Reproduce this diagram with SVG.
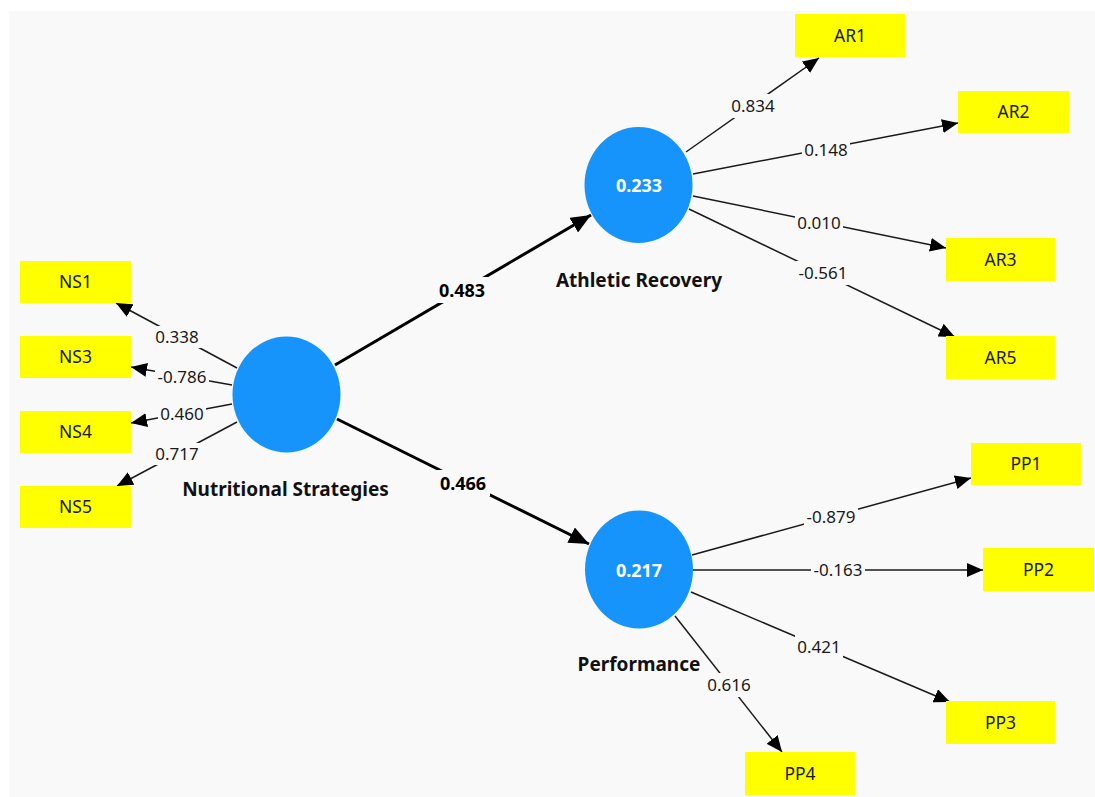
<svg xmlns="http://www.w3.org/2000/svg" width="1095" height="797" viewBox="0 0 1095 797">
<style>
.box{fill:#ffff00}
.lat{fill:#1794fb}
.ind{font-family:"Noto Sans","Open Sans","Liberation Sans",sans-serif;font-size:17.5px;fill:#1a1a1a;text-anchor:middle}
.name{font-family:"Noto Sans","Open Sans","Liberation Sans",sans-serif;font-size:19px;font-weight:bold;fill:#111;text-anchor:middle}
.r2{font-family:"Noto Sans","Open Sans","Liberation Sans",sans-serif;font-size:18px;font-weight:bold;fill:#ffffff;text-anchor:middle}
.ln{stroke:#1a1a1a;stroke-width:1.5;fill:none}
.bl{stroke:#000;stroke-width:3;fill:none}
.lbg{fill:#f9f9f9}
.lab{font-family:"Noto Sans","Open Sans","Liberation Sans",sans-serif;font-size:17px;fill:#1a1a1a;text-anchor:middle}
.blab{font-family:"Noto Sans","Open Sans","Liberation Sans",sans-serif;font-size:18px;font-weight:bold;fill:#000;text-anchor:middle}
</style>
<defs>
<marker id="ah" markerUnits="userSpaceOnUse" markerWidth="16" markerHeight="14" refX="16" refY="7" orient="auto"><path d="M0,0 L16,7 L0,14 z" fill="#000"/></marker>
<marker id="ahb" markerUnits="userSpaceOnUse" markerWidth="20" markerHeight="17" refX="20" refY="8.5" orient="auto"><path d="M0,0 L20,8.5 L0,17 z" fill="#000"/></marker>
</defs>
<rect x="0" y="0" width="1095" height="797" fill="#ffffff"/>
<rect x="9" y="11" width="1086" height="786" fill="#f9f9f9"/>

<g id="connectors">
<line class="ln" x1="237" y1="368" x2="116" y2="303" marker-end="url(#ah)"/>
<line class="ln" x1="232" y1="385" x2="131" y2="367" marker-end="url(#ah)"/>
<line class="ln" x1="232" y1="404" x2="131" y2="423" marker-end="url(#ah)"/>
<line class="ln" x1="237" y1="422" x2="117" y2="486" marker-end="url(#ah)"/>
<line class="bl" x1="335" y1="365" x2="591" y2="215" marker-end="url(#ahb)"/>
<line class="bl" x1="337" y1="419" x2="589" y2="544" marker-end="url(#ahb)"/>
<line class="ln" x1="686" y1="152" x2="819" y2="58" marker-end="url(#ah)"/>
<line class="ln" x1="693" y1="174" x2="958" y2="123" marker-end="url(#ah)"/>
<line class="ln" x1="693" y1="196" x2="946" y2="248" marker-end="url(#ah)"/>
<line class="ln" x1="689" y1="209" x2="955" y2="337" marker-end="url(#ah)"/>
<line class="ln" x1="692" y1="555" x2="971" y2="478" marker-end="url(#ah)"/>
<line class="ln" x1="693" y1="570" x2="983" y2="570" marker-end="url(#ah)"/>
<line class="ln" x1="691" y1="592" x2="950" y2="702" marker-end="url(#ah)"/>
<line class="ln" x1="675" y1="616" x2="782" y2="752" marker-end="url(#ah)"/>

<rect class="lbg" x="153" y="326" width="48" height="22"/><text class="lab" x="177" y="343">0.338</text>
<rect class="lbg" x="155" y="366" width="54" height="22"/><text class="lab" x="182" y="383">-0.786</text>
<rect class="lbg" x="158" y="403" width="48" height="22"/><text class="lab" x="182" y="420">0.460</text>
<rect class="lbg" x="153" y="443" width="48" height="22"/><text class="lab" x="177" y="460">0.717</text>
<rect class="lbg" x="435" y="277" width="54" height="26"/><text class="blab" x="462" y="296.5">0.483</text>
<rect class="lbg" x="436" y="470" width="54" height="26"/><text class="blab" x="463" y="489.5">0.466</text>
<rect class="lbg" x="729" y="94" width="48" height="24"/><text class="lab" x="753" y="112">0.834</text>
<rect class="lbg" x="802" y="139" width="48" height="22"/><text class="lab" x="826" y="156">0.148</text>
<rect class="lbg" x="795" y="212" width="48" height="22"/><text class="lab" x="819" y="229">0.010</text>
<rect class="lbg" x="796" y="261" width="54" height="24"/><text class="lab" x="823" y="279">-0.561</text>
<rect class="lbg" x="804" y="505" width="54" height="24"/><text class="lab" x="831" y="523">-0.879</text>
<rect class="lbg" x="811" y="559" width="54" height="22"/><text class="lab" x="838" y="576">-0.163</text>
<rect class="lbg" x="795" y="635" width="48" height="24"/><text class="lab" x="819" y="653">0.421</text>
<rect class="lbg" x="705" y="673" width="48" height="24"/><text class="lab" x="729" y="691">0.616</text>
</g>

<g id="NS"><ellipse class="lat" cx="286.5" cy="394.5" rx="54" ry="58"/><text class="name" x="285.5" y="496">Nutritional Strategies</text></g>
<g id="AR"><ellipse class="lat" cx="638.5" cy="185" rx="54" ry="58"/><text class="r2" x="639" y="191.5">0.233</text><text class="name" x="639" y="287">Athletic Recovery</text></g>
<g id="PP"><ellipse class="lat" cx="639" cy="569.5" rx="54" ry="59"/><text class="r2" x="639" y="576.5">0.217</text><text class="name" x="639" y="671">Performance</text></g>

<g id="NS1"><rect class="box" x="20" y="261" width="111" height="42"/><text class="ind" x="75.5" y="288">NS1</text></g>
<g id="NS3"><rect class="box" x="20" y="336" width="111" height="42"/><text class="ind" x="75.5" y="363">NS3</text></g>
<g id="NS4"><rect class="box" x="20" y="411" width="111" height="42"/><text class="ind" x="75.5" y="438">NS4</text></g>
<g id="NS5"><rect class="box" x="20" y="486" width="111" height="42"/><text class="ind" x="75.5" y="513">NS5</text></g>

<g id="AR1"><rect class="box" x="795" y="14" width="110" height="43"/><text class="ind" x="850" y="41.5">AR1</text></g>
<g id="AR2"><rect class="box" x="958" y="91" width="111" height="42"/><text class="ind" x="1013.5" y="118">AR2</text></g>
<g id="AR3"><rect class="box" x="946" y="238" width="109" height="43"/><text class="ind" x="1000.5" y="265.5">AR3</text></g>
<g id="AR5"><rect class="box" x="946" y="336" width="109" height="43"/><text class="ind" x="1000.5" y="363.5">AR5</text></g>

<g id="PP1"><rect class="box" x="971" y="443" width="110" height="42"/><text class="ind" x="1026" y="470">PP1</text></g>
<g id="PP2"><rect class="box" x="983" y="548" width="111" height="43"/><text class="ind" x="1038.5" y="575.5">PP2</text></g>
<g id="PP3"><rect class="box" x="946" y="701" width="109" height="43"/><text class="ind" x="1000.5" y="728.5">PP3</text></g>
<g id="PP4"><rect class="box" x="745" y="752" width="110" height="43"/><text class="ind" x="800" y="779.5">PP4</text></g>
</svg>
